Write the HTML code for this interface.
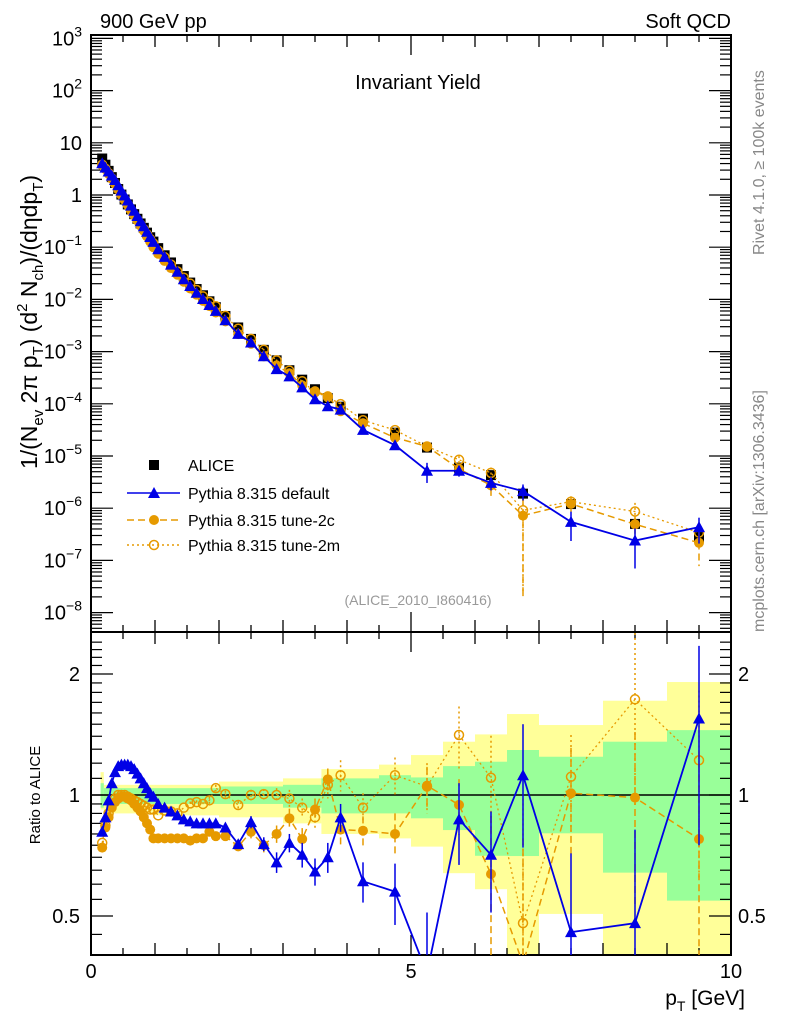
<!DOCTYPE html>
<html><head><meta charset="utf-8"><style>
html,body{margin:0;padding:0;background:#fff;width:786px;height:1024px;overflow:hidden;}
svg{display:block;font-family:"Liberation Sans",sans-serif;}
</style></head><body>
<svg id="c" width="786" height="1024" viewBox="0 0 786 1024" xmlns="http://www.w3.org/2000/svg">
<defs>
<clipPath id="mainClip"><rect x="91" y="35" width="640" height="597"/></clipPath>
<clipPath id="ratioClip"><rect x="91" y="632" width="640" height="323"/></clipPath>
</defs>
<g id="bands" clip-path="url(#ratioClip)"></g>
<g id="axes"></g>
<g id="marks"></g>
<text x="100" y="28" font-size="20">900 GeV pp</text>
<text x="731" y="28" font-size="20" text-anchor="end">Soft QCD</text>
<text x="418" y="89" font-size="20" text-anchor="middle">Invariant Yield</text>
<text x="418" y="605" font-size="14" fill="#999" text-anchor="middle">(ALICE_2010_I860416)</text>
<text transform="translate(764,255) rotate(-90)" font-size="16" fill="#888">Rivet 4.1.0, ≥ 100k events</text>
<text transform="translate(764,632) rotate(-90)" font-size="16" fill="#888">mcplots.cern.ch [arXiv:1306.3436]</text>
<text transform="translate(37,322) rotate(-90)" font-size="23" text-anchor="middle">1/(N<tspan font-size="15" dy="6">ev</tspan><tspan dy="-6"> 2π p</tspan><tspan font-size="15" dy="6">T</tspan><tspan dy="-6">) (d</tspan><tspan font-size="15" dy="-10">2</tspan><tspan dy="10"> N</tspan><tspan font-size="15" dy="6">ch</tspan><tspan dy="-6">)/(dηdp</tspan><tspan font-size="15" dy="6">T</tspan><tspan dy="-6">)</tspan></text>
<text transform="translate(40,795) rotate(-90)" font-size="15" text-anchor="middle">Ratio to ALICE</text>
<text x="745" y="1005" font-size="21" text-anchor="end">p<tspan font-size="14" dy="6">T</tspan><tspan dy="-6"> [GeV]</tspan></text>
<g id="legend"></g>
</svg>
<script>
const ptCenters=[0.175,0.225,0.275,0.325,0.375,0.425,0.475,0.525,0.575,0.625,0.675,0.725,0.775,0.825,0.875,0.925,0.975,
1.05,1.15,1.25,1.35,1.45,1.55,1.65,1.75,1.85,1.95,
2.1,2.3,2.5,2.7,2.9,3.1,3.3,3.5,3.7,3.9,4.25,4.75,5.25,5.75,6.25,6.75,7.5,8.5,9.5];
const aliceVals=[5.0,3.8,2.9,2.2,1.7,1.3,1.02,0.82,0.66,0.53,0.43,0.35,0.285,0.235,0.19,0.155,0.128,
0.096,0.07,0.051,0.038,0.028,0.021,0.0158,0.012,0.0092,0.0071,
0.0048,0.0029,0.00175,0.00108,0.00068,0.00044,0.00029,0.00019,0.000128,0.000088,0.000052,0.000028,1.45e-5,6.0e-6,4.3e-6,1.9e-6,1.2e-6,5e-7,2.8e-7];
const ratioDefault=[0.81,0.88,0.97,1.07,1.14,1.18,1.19,1.19,1.19,1.18,1.16,1.13,1.10,1.07,1.04,1.01,0.99,
0.95,0.93,0.91,0.89,0.87,0.86,0.85,0.85,0.85,0.85,
0.83,0.755,0.856,0.755,0.68,0.76,0.71,0.645,0.70,0.88,0.61,0.575,0.36,0.87,0.71,1.12,0.456,0.48,1.55];
const errDefault=[0,0,0,0,0,0,0,0,0,0,0,0,0,0,0,0,0,0,0,0,0,0,0.01,0.01,0.01,0.01,0.01,
0.02,0.02,0.03,0.03,0.04,0.04,0.05,0.05,0.06,0.07,0.07,0.1,0.15,0.2,0.2,0.38,0.26,0.34,0.8];
const ratio2c=[0.74,0.83,0.88,0.93,0.96,0.98,0.99,0.99,0.98,0.97,0.95,0.93,0.91,0.88,0.85,0.82,0.78,
0.78,0.78,0.78,0.78,0.78,0.77,0.78,0.78,0.81,0.79,
0.79,0.745,0.81,0.75,0.80,0.875,0.777,0.92,1.094,0.82,0.815,0.80,1.055,0.945,0.636,0.38,1.01,0.985,0.777];
const err2c=[0,0,0,0,0,0,0,0,0,0,0,0,0,0,0,0,0,0,0,0,0,0,0.01,0.01,0.01,0.02,0.02,
0.02,0.02,0.03,0.03,0.04,0.05,0.05,0.06,0.07,0.07,0.07,0.1,0.12,0.15,0.25,0.4,0.3,0.45,0.5];
const ratio2m=[0.76,0.84,0.90,0.95,0.98,1.0,1.0,1.0,0.99,0.98,0.97,0.96,0.95,0.94,0.93,0.92,0.92,
0.89,0.915,0.91,0.90,0.93,0.953,0.96,0.95,0.97,1.04,
1.005,0.944,1.0,1.005,1.0,0.98,0.93,0.88,1.06,1.12,0.93,1.12,1.05,1.41,1.104,0.48,1.11,1.73,1.22];
const err2m=[0,0,0,0,0,0,0,0,0,0,0,0,0,0,0,0,0,0,0,0,0,0,0.01,0.01,0.01,0.02,0.02,
0.02,0.02,0.03,0.03,0.04,0.05,0.05,0.06,0.08,0.1,0.08,0.12,0.15,0.25,0.3,0.5,0.3,0.8,0.6];
const bandLo=[0.15,0.2,1.0,2.0,3.0,3.6,4.0,4.5,5.0,5.5,6.0,6.5,7.0,8.0,9.0];
const bandHi=[0.2,1.0,2.0,3.0,3.6,4.0,4.5,5.0,5.5,6.0,6.5,7.0,8.0,9.0,10.0];
const totUp=[1.14,1.06,1.06,1.08,1.10,1.16,1.16,1.19,1.257,1.357,1.415,1.59,1.493,1.716,1.91];
const totDn=[0.92,0.90,0.89,0.88,0.85,0.80,0.80,0.78,0.744,0.639,0.583,0.38,0.506,0.38,0.38];
const statUp=[1.07,1.04,1.04,1.05,1.06,1.10,1.10,1.12,1.106,1.18,1.21,1.294,1.245,1.357,1.45];
const statDn=[0.93,0.95,0.95,0.95,0.93,0.90,0.90,0.90,0.875,0.818,0.706,0.705,0.803,0.641,0.546];
const xTicks=[0,5,10];
const yExps=[3,2,1,0,-1,-2,-3,-4,-5,-6,-7,-8];
const rTicks=[0.5,1,2];

const NS="http://www.w3.org/2000/svg";
const X0=91,X1=731,MT=35,MB=632,RB=955;
const xs=v=>X0+(X1-X0)*v/10;
const ym=v=>195-52.2*Math.log10(v);
const yr=v=>795-402*Math.log10(v);
function mk(tag,attrs,parent){const e=document.createElementNS(NS,tag);for(const k in attrs)e.setAttribute(k,attrs[k]);parent.appendChild(e);return e;}
const axes=document.getElementById('axes'),marks=document.getElementById('marks'),bands=document.getElementById('bands'),legend=document.getElementById('legend');
const BLUE="#0000e6",ORG="#e69a00";

bandLo.forEach((lo,i)=>{
 let r=mk('rect',{x:xs(lo),y:yr(totUp[i]),width:xs(bandHi[i])-xs(lo),height:yr(totDn[i])-yr(totUp[i]),fill:'#ffff99'},bands);
 
 
});
bandLo.forEach((lo,i)=>{
 let r=mk('rect',{x:xs(lo),y:yr(statUp[i]),width:xs(bandHi[i])-xs(lo),height:yr(statDn[i])-yr(statUp[i]),fill:'#99ff99'},bands);
 
 
});

let f1=mk('rect',{x:X0,y:MT,width:X1-X0,height:MB-MT,fill:'none',stroke:'#000','stroke-width':2},axes);


let f2=mk('rect',{x:X0,y:MB,width:X1-X0,height:RB-MB,fill:'none',stroke:'#000','stroke-width':2},axes);


let one=mk('line',{x1:X0,x2:X1,y1:yr(1),y2:yr(1),stroke:'#000','stroke-width':1.5},axes);



for(let k=0;k<=20;k++){
 const v=k*0.5,x=xs(v);
 const len=(k%10==0)?20:(k%2==0?12:7);
 [[MT,1],[MB,-1],[MB,1],[RB,-1]].forEach(([y0,d])=>{
  if(k==0||k==20)return;
  let t=mk('line',{x1:x,x2:x,y1:y0,y2:y0+d*len,stroke:'#000','stroke-width':1.3},axes);
  
  
 });
}
xTicks.forEach(v=>{
 let t=mk('text',{x:xs(v),y:978,'font-size':20,'text-anchor':'middle'},axes);t.textContent=v;
 
 
});
for(let e=-9;e<=3;e++){
 for(let m=1;m<=9;m++){
  const v=m*Math.pow(10,e),y=ym(v);
  if(y<MT-0.5||y>MB)continue;
  const len=m==1?22:11;
  [[X0,1],[X1,-1]].forEach(([x0,d])=>{
   let t=mk('line',{x1:x0,x2:x0+d*len,y1:y,y2:y,stroke:'#000','stroke-width':1.2},axes);
   
   
  });
 }
}
yExps.forEach(e=>{
 let t=mk('text',{x:82,y:ym(Math.pow(10,e))+7,'font-size':20,'text-anchor':'end'},axes);
 if(e==0)t.textContent='1';else if(e==1)t.textContent='10';
 else{t.textContent='10';let s=mk('tspan',{'font-size':14,dy:-9},t);s.textContent=e<0?'−'+(-e):String(e);}
 
 
});
const rt=[];for(let v=0.4;v<1.0;v+=0.05)rt.push(v);for(let v=1.0;v<=2.5;v+=0.1)rt.push(v);
rt.forEach(v=>{
 const y=yr(v);if(y<MB||y>RB)return;
 const major=rTicks.some(r=>Math.abs(r-v)<1e-6);
 const len=major?22:11;
 [[X0,1],[X1,-1]].forEach(([x0,d])=>{
  let t=mk('line',{x1:x0,x2:x0+d*len,y1:y,y2:y,stroke:'#000','stroke-width':1.2},axes);
  
  
 });
});
rTicks.forEach(v=>{
 let t=mk('text',{x:80,y:yr(v)+7,'font-size':20,'text-anchor':'end'},axes);t.textContent=v;
 
 
 let t2=mk('text',{x:738,y:yr(v)+7,'font-size':20},axes);t2.textContent=v;
 
 
});

function marker(type,x,y,color,parent,sz){
 sz=sz||1;
 if(type=='sq')return mk('rect',{x:x-5*sz,y:y-5*sz,width:10*sz,height:10*sz,fill:'#000'},parent);
 if(type=='tri')return mk('polygon',{points:`${x},${y-6*sz} ${x-6*sz},${y+5*sz} ${x+6*sz},${y+5*sz}`,fill:color},parent);
 if(type=='dot')return mk('circle',{cx:x,cy:y,r:5*sz,fill:color},parent);
 return mk('circle',{cx:x,cy:y,r:4.5*sz,fill:'none',stroke:color,'stroke-width':1.5},parent);
}
const series=[
 {name:'pythia-default',r:ratioDefault,e:errDefault,c:BLUE,t:'tri',dash:'',w:1.8},
 {name:'pythia-tune-2c',r:ratio2c,e:err2c,c:ORG,t:'dot',dash:'7,4',w:1.5},
 {name:'pythia-tune-2m',r:ratio2m,e:err2m,c:ORG,t:'open',dash:'2,3',w:1.3}
];
const gm=mk('g',{'clip-path':'url(#mainClip)'},marks);


const gr=mk('g',{'clip-path':'url(#ratioClip)'},marks);


ptCenters.forEach((p,i)=>{
 let s=marker('sq',xs(p),ym(aliceVals[i]),'#000',gm);
 
 
});
series.slice().reverse().forEach(S=>{
 const pm=ptCenters.map((p,i)=>[xs(p),ym(aliceVals[i]*S.r[i])]);
 const pr=ptCenters.map((p,i)=>[xs(p),yr(S.r[i])]);
 [[gm,pm,i=>ym(aliceVals[i]*(S.r[i]+S.e[i])),i=>ym(aliceVals[i]*Math.max(S.r[i]-S.e[i],0.01))],
  [gr,pr,i=>yr(S.r[i]+S.e[i]),i=>yr(Math.max(S.r[i]-S.e[i],0.05))]].forEach(([g,pts,up,dn])=>{
  let l=mk('polyline',{points:pts.map(q=>q.join(',')).join(' '),fill:'none',stroke:S.c,'stroke-width':S.w,'stroke-dasharray':S.dash},g);
  
  
  pts.forEach((q,i)=>{
   if(S.e[i]>0){
    let eb=mk('line',{x1:q[0],x2:q[0],y1:up(i),y2:dn(i),stroke:S.c,'stroke-width':1.5,'stroke-dasharray':S.dash},g);
    
    
   }
   let m=marker(S.t,q[0],q[1],S.c,g);
   
   
  });
 });
});

const legItems=[['sq','#000','','ALICE',465],['tri',BLUE,'','Pythia 8.315 default',493],['dot',ORG,'7,4','Pythia 8.315 tune-2c',520],['open',ORG,'2,3','Pythia 8.315 tune-2m',545]];
legItems.forEach(([t,c,d,label,y],i)=>{
 const g=mk('g',{},legend);
 
 
 if(i>0){mk('line',{x1:127,x2:180,y1:y,y2:y,stroke:c,'stroke-width':1.5,'stroke-dasharray':d},g);}
 marker(t,154,y,c,g);
 let tx=mk('text',{x:188,y:y+6,'font-size':16},g);tx.textContent=label;
});
</script>
</body></html>
